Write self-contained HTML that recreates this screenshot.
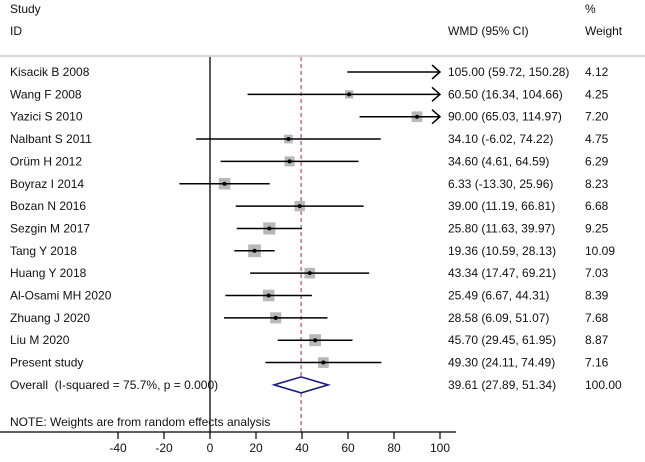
<!DOCTYPE html>
<html><head><meta charset="utf-8"><style>
body{margin:0;background:#fff}
svg text{font-family:"Liberation Sans",Arial,sans-serif;font-size:12px;fill:#111}
</style></head><body>
<svg id="plot" width="645" height="457" viewBox="0 0 645 457" xmlns="http://www.w3.org/2000/svg">
<text x="10" y="13">Study</text>
<text x="10" y="35">ID</text>
<text x="448" y="35">WMD (95% CI)</text>
<text x="585" y="13">%</text>
<text x="585" y="35">Weight</text>
<line x1="0" y1="56" x2="645" y2="56" stroke="#c8c8c8" stroke-width="1.5"/>
<g id="marks"></g>
</svg>
<script>
const studies=["Kisacik B 2008","Wang F 2008","Yazici S 2010","Nalbant S 2011","Orüm H 2012","Boyraz I 2014","Bozan N 2016","Sezgin M 2017","Tang Y 2018","Huang Y 2018","Al-Osami MH 2020","Zhuang J 2020","Liu M 2020","Present study"];
const est=[105.00,60.50,90.00,34.10,34.60,6.33,39.00,25.80,19.36,43.34,25.49,28.58,45.70,49.30];
const lo=[59.72,16.34,65.03,-6.02,4.61,-13.30,11.19,11.63,10.59,17.47,6.67,6.09,29.45,24.11];
const hi=[150.28,104.66,114.97,74.22,64.59,25.96,66.81,39.97,28.13,69.21,44.31,51.07,61.95,74.49];
const weights=[4.12,4.25,7.20,4.75,6.29,8.23,6.68,9.25,10.09,7.03,8.39,7.68,8.87,7.16];
const overall=[39.61,27.89,51.34];
const overallLabel="Overall\u00a0 (I-squared = 75.7%, p = 0.000)";
const ticks=[-40,-20,0,20,40,60,80,100];
const xMin=-40,xMax=100;
const X=v=>210+v*2.3;
const rowY=i=>72+i*22.35;
const NS="http://www.w3.org/2000/svg";
const g=document.getElementById('marks');
function mk(t,a){const e=document.createElementNS(NS,t);for(const k in a)e.setAttribute(k,a[k]);g.appendChild(e);return e;}
const f=v=>v.toFixed(2);
const axisY=432;
let l=mk('line',{x1:X(0),y1:57,x2:X(0),y2:axisY,stroke:'#000','stroke-width':1.3});


l=mk('line',{x1:X(overall[0]),y1:57,x2:X(overall[0]),y2:axisY,stroke:'#b03030','stroke-width':1,'stroke-dasharray':'4,3'});


studies.forEach((s,i)=>{
  const y=rowY(i);
  let t=mk('text',{x:10,y:y+4});t.textContent=s;
  
  
  const side=4.0*Math.sqrt(weights[i]);
  if(est[i]<=xMax){
    let b=mk('rect',{x:X(est[i])-side/2,y:y-side/2,width:side,height:side,fill:'#b8b8b8'});
    
    
  }
  const x2=Math.min(hi[i],xMax);
  let c=mk('line',{x1:X(Math.max(lo[i],xMin)),y1:y,x2:X(x2),y2:y,stroke:'#000','stroke-width':1.5});
  
  
  if(hi[i]>xMax){
    let a=mk('polyline',{points:`${X(xMax)-8},${y-7} ${X(xMax)},${y} ${X(xMax)-8},${y+7}`,fill:'none',stroke:'#000','stroke-width':1.5});
    
    
  }
  if(est[i]<=xMax){
    let d=mk('circle',{cx:X(est[i]),cy:y,r:2,fill:'#000'});
    
    
  }
  t=mk('text',{x:448,y:y+4});t.textContent=`${f(est[i])} (${f(lo[i])}, ${f(hi[i])})`;
  
  
  t=mk('text',{x:585,y:y+4});t.textContent=f(weights[i]);
  
  
});
const oy=rowY(studies.length);
let t=mk('text',{x:10,y:oy+4});t.textContent=overallLabel;


let dm=mk('polygon',{points:`${X(overall[1])},${oy} ${X(overall[0])},${oy-8} ${X(overall[2])},${oy} ${X(overall[0])},${oy+8}`,fill:'#fff',stroke:'#1a1a80','stroke-width':1.6});


t=mk('text',{x:448,y:oy+4});t.textContent=`${f(overall[0])} (${f(overall[1])}, ${f(overall[2])})`;


t=mk('text',{x:585,y:oy+4});t.textContent="100.00";


t=mk('text',{x:10,y:426});t.textContent="NOTE: Weights are from random effects analysis";


let ax=mk('line',{x1:0,y1:axisY,x2:456,y2:axisY,stroke:'#000','stroke-width':1.3});


ticks.forEach(v=>{
  let k=mk('line',{x1:X(v),y1:axisY,x2:X(v),y2:axisY+7,stroke:'#000','stroke-width':1.2});
  
  
  let tl=mk('text',{x:X(v),y:axisY+20,'text-anchor':'middle'});tl.textContent=v;
  
  
});
</script>
</body></html>
